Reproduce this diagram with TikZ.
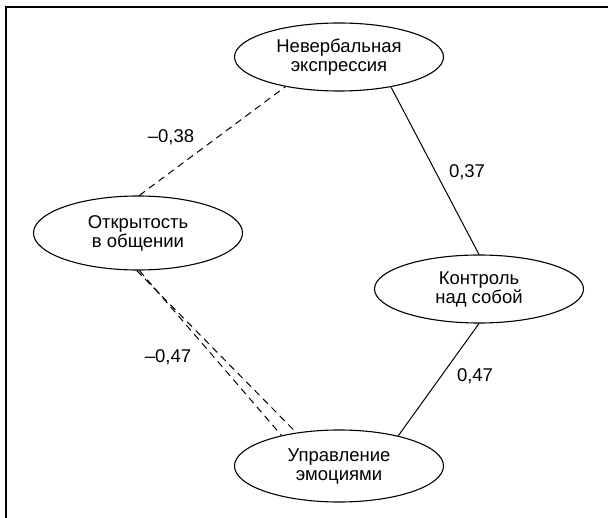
\documentclass[tikz,border=0pt]{standalone}
\usepackage{fontspec}
\setmainfont{Liberation Sans}
\usetikzlibrary{shapes.geometric}

\begin{document}
\begin{tikzpicture}[x=1pt, y=-1pt,
    elipse/.style={draw, ellipse, line width=1.1pt, minimum width=209pt, minimum height=70pt,
        inner sep=0pt, align=center, font=\fontsize{18.5}{19}\selectfont},
    valor/.style={font=\fontsize{18.5}{19}\selectfont},
    linea/.style={line width=1pt},
    discont/.style={line width=1pt, dash pattern=on 7pt off 5pt}]

    \useasboundingbox (0,0) rectangle (608,518);

    % marco
    \draw[line width=2pt] (6,518) -- (6,7.5) -- (608,7.5);

    % elipses
    \node[elipse, minimum height=68pt] (nev) at (339,57) {Невербальная\\экспрессия};
    \node[elipse, minimum height=74pt] (otk) at (138,233) {Открытость\\в общении};
    \node[elipse, minimum height=68pt] (kon) at (479,289) {Контроль\\над собой};
    \node[elipse, minimum height=72pt] (upr) at (339,466) {Управление\\эмоциями};

    % relaciones
    \draw[discont] (otk.88) -- (nev.209);
    \draw[linea] (nev.330) -- (kon.90);
    \draw[linea] (kon.270) -- (upr.27);
    \draw[discont] (otk.272) -- (upr.152);
    \draw[discont] (otk.268) -- (upr.142);

    % valores
    \node[valor] (v1) at (171,137) {\textendash0,38};
    \node[valor] (v2) at (467,172) {0,37};
    \node[valor] (v3) at (168,357) {\textendash0,47};
    \node[valor] (v4) at (475,376) {0,47};

\end{tikzpicture}
\end{document}
